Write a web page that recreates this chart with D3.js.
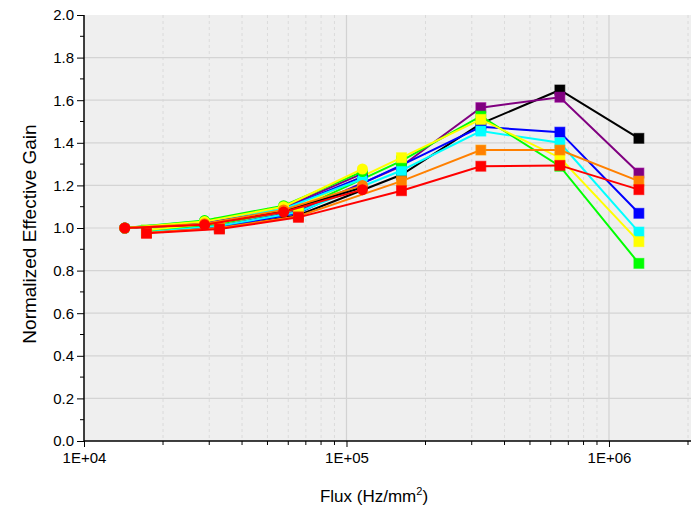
<!DOCTYPE html>
<html><head><meta charset="utf-8">
<script src="https://cdn.jsdelivr.net/npm/d3@7"></script>
<style>body{margin:0;background:#fff}svg{display:block;font-family:Arial,"Liberation Sans",sans-serif}</style>
</head><body><svg id="c" width="692" height="512"></svg>
<script>
const colors = {black:"#000000",purple:"#800080",blue:"#0000ff",cyan:"#00ffff",green:"#00ff00",yellow:"#ffff00",orange:"#ff8000",red:"#ff0000"};
const seriesOrder = ["black","purple","blue","cyan","green","yellow","orange","red"];

// circle-marker series
const fluxCircle = [14300, 28800, 57600, 115000];
const gainCircle = {
  black:  [1.0, 1.018, 1.080, 1.190],
  purple: [1.0, 1.028, 1.095, 1.255],
  blue:   [1.0, 1.025, 1.090, 1.240],
  cyan:   [1.0, 1.033, 1.090, 1.230],
  green:  [1.0, 1.035, 1.105, 1.265],
  yellow: [1.0, 1.030, 1.100, 1.277],
  orange: [1.0, 1.020, 1.085, 1.200],
  red:    [1.0, 1.015, 1.075, 1.180]
};
// square-marker series
const fluxSquare = [17300, 32800, 65600, 162000, 325000, 650000, 1300000];
const gainSquare = {
  black:  [0.980, 1.000, 1.060, 1.250, 1.490, 1.648, 1.421],
  purple: [0.985, 1.010, 1.080, 1.290, 1.565, 1.614, 1.258],
  blue:   [0.980, 1.005, 1.070, 1.295, 1.475, 1.450, 1.069],
  cyan:   [0.985, 1.010, 1.075, 1.270, 1.455, 1.400, 0.981],
  green:  [0.990, 1.020, 1.090, 1.315, 1.525, 1.290, 0.834],
  yellow: [0.990, 1.025, 1.100, 1.330, 1.510, 1.330, 0.936],
  orange: [0.978, 1.000, 1.055, 1.220, 1.366, 1.366, 1.220],
  red:    [0.975, 0.995, 1.050, 1.175, 1.290, 1.294, 1.180]
};
const yTicks = [0.0,0.2,0.4,0.6,0.8,1.0,1.2,1.4,1.6,1.8,2.0];
const xTickLabels = ["1E+04","1E+05","1E+06"];
const xTickValues = [1e4,1e5,1e6];

const svg = d3.select("#c");
const L=84, R=688, T=15, B=441;
const x = d3.scaleLog().domain([1e4,2e6]).range([L,R]);
const y = d3.scaleLinear().domain([0,2]).range([B,T]);

svg.append("rect").attr("x",L).attr("y",T).attr("width",R-L+3).attr("height",B-T).attr("fill","#efefef");

// minor vertical grid
const minorX=[];
for (let d=1e4; d<2e6; d*=10) for (let k=2;k<=9;k++){ const v=k*d; if(v<=2e6) minorX.push(v); }
svg.append("g").selectAll("line").data(minorX).join("line")
 .attr("x1",d=>x(d)).attr("x2",d=>x(d)).attr("y1",T).attr("y2",B)
 .attr("stroke","#d6d6d6").attr("stroke-dasharray","3,3").attr("stroke-width",0.8);
svg.append("g").selectAll("line").data([1e5,1e6]).join("line")
 .attr("x1",d=>x(d)).attr("x2",d=>x(d)).attr("y1",T).attr("y2",B)
 .attr("stroke","#d2d2d2").attr("stroke-width",1.2);
svg.append("g").selectAll("line").data(yTicks.filter(v=>v>0&&v<2)).join("line")
 .attr("x1",L).attr("x2",R+3).attr("y1",d=>y(d)).attr("y2",d=>y(d))
 .attr("stroke","#d4d4d4").attr("stroke-width",1.2);

const line = (xs)=>d3.line().x((d,i)=>x(xs[i])).y(d=>y(d));

// square series
seriesOrder.forEach(s=>{
  const g=svg.append("g");
  g.append("path").datum(gainSquare[s]).attr("d",line(fluxSquare)).attr("fill","none").attr("stroke",colors[s]).attr("stroke-width",2);
  g.selectAll("rect").data(gainSquare[s]).join("rect")
   .attr("x",(d,i)=>x(fluxSquare[i])-5).attr("y",d=>y(d)-5).attr("width",10).attr("height",10)
   .attr("fill",colors[s]).attr("stroke",d3.color(colors[s]).brighter(0.6)).attr("stroke-opacity",0.6).attr("stroke-width",1);
});
// circle series
seriesOrder.forEach(s=>{
  const g=svg.append("g");
  g.append("path").datum(gainCircle[s]).attr("d",line(fluxCircle)).attr("fill","none").attr("stroke",colors[s]).attr("stroke-width",2);
  g.selectAll("circle").data(gainCircle[s]).join("circle")
   .attr("cx",(d,i)=>x(fluxCircle[i])).attr("cy",d=>y(d)).attr("r",5.5)
   .attr("fill",colors[s]);
});

// axes
const yAxis = d3.axisLeft(y).tickValues(yTicks).tickFormat(d3.format(".1f")).tickSize(7).tickPadding(3);
const ya = svg.append("g").attr("transform",`translate(${L},0)`).call(yAxis);
ya.select(".domain").attr("stroke","#000").attr("stroke-width",1.5).attr("d",`M0,${B+0.5}V${T}`);
ya.selectAll("text").attr("font-size",15).attr("fill","#000");
svg.append("g").selectAll("line").data(d3.range(0.1,2,0.2)).join("line")
 .attr("x1",L-4).attr("x2",L).attr("y1",d=>y(d)).attr("y2",d=>y(d)).attr("stroke","#000");

const xAxis = d3.axisBottom(x).tickValues(xTickValues).tickFormat((d,i)=>xTickLabels[i]).tickSize(6).tickPadding(5);
const xa = svg.append("g").attr("transform",`translate(0,${B})`).call(xAxis);
xa.select(".domain").attr("stroke","#000").attr("stroke-width",1.5).attr("d",`M${L},0H${R+3}`);
xa.selectAll("text").attr("font-size",15).attr("fill","#000");
svg.append("g").selectAll("line").data(minorX).join("line")
 .attr("x1",d=>x(d)).attr("x2",d=>x(d)).attr("y1",B).attr("y2",B+4).attr("stroke","#000");

svg.append("text").attr("transform","translate(36,234) rotate(-90)").attr("text-anchor","middle")
 .attr("font-size",19).text("Normalized Effective Gain");
const xt = svg.append("text").attr("x",374).attr("y",502).attr("text-anchor","middle").attr("font-size",17);
xt.append("tspan").text("Flux (Hz/mm");
xt.append("tspan").attr("dy",-7).attr("font-size",11).text("2");
xt.append("tspan").attr("dy",7).text(")");
</script></body></html>
